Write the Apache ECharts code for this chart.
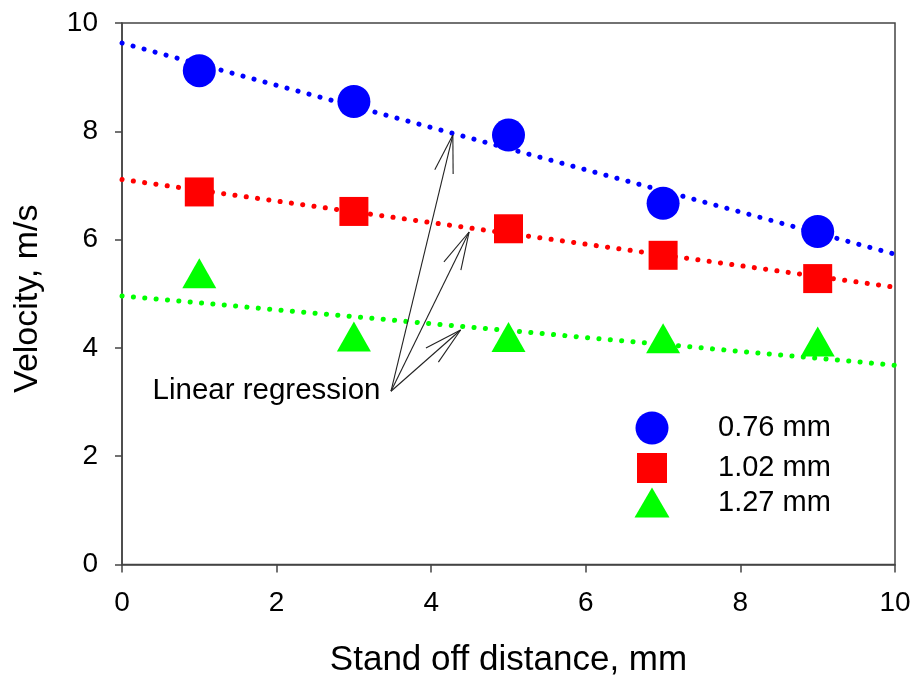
<!DOCTYPE html>
<html>
<head>
<meta charset="utf-8">
<script src="https://cdn.jsdelivr.net/npm/echarts@6/dist/echarts.min.js"></script>
<style>
html,body{margin:0;padding:0;background:#fff;}
#chart{width:915px;height:677px;}
</style>
</head>
<body>
<div id="chart"></div>
<script>
// ---- data ----
const standOff = [1, 3, 5, 7, 9];
const seriesNames = ['0.76 mm', '1.02 mm', '1.27 mm'];
const vel076 = [9.12, 8.55, 7.93, 6.67, 6.15];
const vel102 = [6.88, 6.52, 6.20, 5.71, 5.28];
const vel127 = [5.38, 4.21, 4.20, 4.18, 4.12];
// regression line end values at x = 0 and x = 10
const fitX = [0, 10];
const fit076 = [9.63, 5.73];
const fit102 = [7.11, 5.12];
const fit127 = [4.96, 3.68];
// annotation arrows (data coords): start and tips
const arrowStart = [3.48, 3.20];
const arrowTipX = [4.28, 4.49, 4.38];
const arrowTipY = [7.93, 6.14, 4.33];
const noteText = 'Linear regression';
const notePos = [0.395, 3.20];
const xTicks = [0, 2, 4, 6, 8, 10];
const yTicks = [0, 2, 4, 6, 8, 10];

const FONT = 'Arial, "Liberation Sans", Helvetica, sans-serif';
const pairs = (xs, ys) => xs.map((x, i) => [x, ys[i]]);

const colors = ['#0000ff', '#ff0000', '#00ff00'];
const symbols = ['circle', 'rect', 'triangle'];
const sizes = [33, 29, [34, 30]];
const values = [vel076, vel102, vel127];
const fits = [fit076, fit102, fit127];

const series = [];
fits.forEach((f, i) => {
  series.push({
    type: 'line',
    data: pairs(fitX, f),
    showSymbol: false,
    symbol: 'none',
    silent: true,
    z: 2,
    lineStyle: { color: colors[i], width: 5, type: [0.1, 11.3], cap: 'round' }
  });
});
values.forEach((v, i) => {
  series.push({
    name: seriesNames[i],
    type: 'scatter',
    data: pairs(standOff, v),
    symbol: symbols[i],
    symbolSize: sizes[i],
    z: 3,
    itemStyle: { color: colors[i], opacity: 1 }
  });
});
// arrows
series.push({
  type: 'custom',
  silent: true,
  z: 4,
  data: arrowTipX.map((x, i) => [arrowStart[0], arrowStart[1], x, arrowTipY[i]]),
  renderItem: function (params, api) {
    const p0 = api.coord([api.value(0), api.value(1)]);
    const p1 = api.coord([api.value(2), api.value(3)]);
    const dx = p0[0] - p1[0], dy = p0[1] - p1[1];
    const len = Math.sqrt(dx * dx + dy * dy);
    const ux = dx / len, uy = dy / len;
    const hl = 39, ang = 14 * Math.PI / 180;
    const rot = (a) => [ux * Math.cos(a) - uy * Math.sin(a), ux * Math.sin(a) + uy * Math.cos(a)];
    const r1 = rot(ang), r2 = rot(-ang);
    const st = { stroke: '#222', lineWidth: 1.1, fill: null };
    return {
      type: 'group',
      children: [
        { type: 'line', shape: { x1: p0[0], y1: p0[1], x2: p1[0], y2: p1[1] }, style: st },
        { type: 'line', shape: { x1: p1[0], y1: p1[1], x2: p1[0] + r1[0] * hl, y2: p1[1] + r1[1] * hl }, style: st },
        { type: 'line', shape: { x1: p1[0], y1: p1[1], x2: p1[0] + r2[0] * hl, y2: p1[1] + r2[1] * hl }, style: st }
      ]
    };
  }
});
// note text
series.push({
  type: 'custom',
  silent: true,
  z: 4,
  data: [notePos],
  renderItem: function (params, api) {
    const p = api.coord([api.value(0), api.value(1)]);
    return {
      type: 'text',
      x: p[0], y: p[1],
      style: { text: noteText, fill: '#000', font: '29.5px ' + FONT, textAlign: 'left', textVerticalAlign: 'middle' }
    };
  }
});

// one legend block per entry so each icon keeps the size it has in the reference
const legendIcon = [[33, 33], [30, 30], [35, 30]];
const legendCenterY = [428, 468, 502.5];
const legendIconX = 652, legendTextX = 718;
const legends = seriesNames.map((n, i) => ({
  data: [n],
  orient: 'vertical',
  padding: 0,
  left: legendIconX - legendIcon[i][0] / 2,
  top: legendCenterY[i] - legendIcon[i][1] / 2,
  itemWidth: legendIcon[i][0], itemHeight: legendIcon[i][1],
  selectedMode: false,
  textStyle: { fontSize: 29, color: '#000', fontFamily: FONT,
    padding: [4, 0, 0, legendTextX - 5 - (legendIconX + legendIcon[i][0] / 2)] }
}));

const chart = echarts.init(document.getElementById('chart'), null, { renderer: 'canvas' });
chart.setOption({
  backgroundColor: '#fff',
  animation: false,
  grid: { left: 122, right: 20, top: 23, bottom: 112.5, outerBoundsMode: 'none', containLabel: false,
    show: true, borderColor: '#444', borderWidth: 1.5, backgroundColor: 'transparent' },
  legend: legends,
  xAxis: {
    type: 'value', min: xTicks[0], max: xTicks[xTicks.length - 1], interval: 2,
    name: 'Stand off distance, mm', nameLocation: 'middle', nameGap: 78,
    nameTextStyle: { fontSize: 35, color: '#000', fontFamily: FONT },
    axisLine: { show: true, onZero: false, lineStyle: { color: '#444', width: 1.5 } },
    axisTick: { show: true, inside: false, length: 8, lineStyle: { color: '#444', width: 1.5 } },
    axisLabel: { fontSize: 28, color: '#000', fontFamily: FONT, margin: 25, showMaxLabel: true, showMinLabel: true },
    splitLine: { show: false }
  },
  yAxis: {
    type: 'value', min: yTicks[0], max: yTicks[yTicks.length - 1], interval: 2,
    name: 'Velocity, m/s', nameLocation: 'middle', nameGap: 77,
    nameTextStyle: { fontSize: 34, color: '#000', fontFamily: FONT, padding: [0, 10, 0, 0] },
    axisLine: { show: true, onZero: false, lineStyle: { color: '#444', width: 1.5 } },
    axisTick: { show: true, inside: false, length: 7, lineStyle: { color: '#444', width: 1.5 } },
    axisLabel: { fontSize: 28, color: '#000', fontFamily: FONT, margin: 24 },
    splitLine: { show: false }
  },
  series: series
});
</script>
</body>
</html>
